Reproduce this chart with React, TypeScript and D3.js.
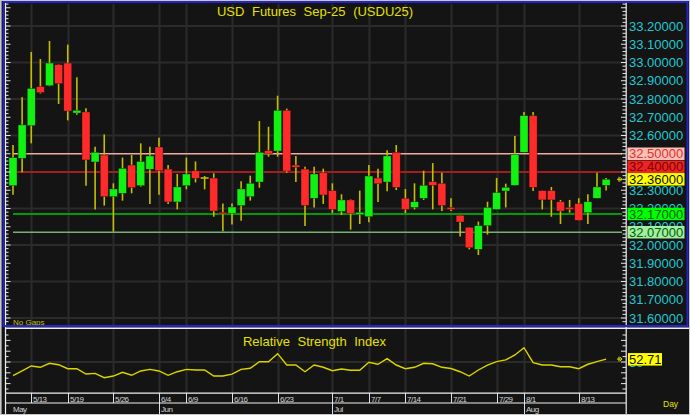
import React from 'react';
import * as d3 from 'd3';

const title = 'USD Futures Sep-25 (USDU25)';
const rsiTitle = 'Relative Strength Index';

const dates = ['5/8','5/9','5/13','5/14','5/15','5/16','5/19','5/20','5/21','5/22','5/23','5/26','5/27','5/28','5/29','5/30','6/4','6/5','6/6','6/9','6/10','6/11','6/12','6/13','6/16','6/17','6/18','6/19','6/20','6/23','6/24','6/25','6/26','6/27','6/30','7/1','7/2','7/3','7/4','7/7','7/8','7/9','7/11','7/14','7/15','7/16','7/17','7/18','7/21','7/22','7/23','7/24','7/25','7/29','7/30','7/31','8/1','8/4','8/5','8/6','8/7','8/8','8/13','8/14','8/15','8/18'];

const opens = [32.325,32.475,32.654,32.868,32.873,32.988,32.997,32.723,32.729,32.455,32.493,32.265,32.283,32.438,32.325,32.415,32.537,32.416,32.236,32.325,32.407,32.367,32.367,32.179,32.174,32.216,32.265,32.345,32.517,32.515,32.738,32.438,32.416,32.256,32.396,32.298,32.184,32.247,32.168,32.155,32.367,32.345,32.508,32.256,32.206,32.256,32.347,32.338,32.206,32.163,32.097,31.976,32.106,32.195,32.296,32.327,32.508,32.709,32.298,32.298,32.237,32.206,32.227,32.177,32.256,32.327];
const highs = [32.548,32.809,33.058,33.019,33.118,32.99,33.098,32.919,32.749,32.539,32.606,32.338,32.479,32.493,32.557,32.539,32.588,32.438,32.389,32.479,32.458,32.378,32.393,32.228,32.228,32.349,32.38,32.679,32.648,32.818,32.747,32.488,32.429,32.429,32.418,32.338,32.278,32.25,32.298,32.438,32.418,32.519,32.548,32.307,32.338,32.407,32.449,32.396,32.256,32.163,32.097,32.128,32.237,32.367,32.336,32.597,32.729,32.729,32.298,32.318,32.247,32.247,32.256,32.278,32.396,32.367];
const lows = [32.276,32.398,32.557,32.83,32.87,32.773,32.683,32.714,32.325,32.195,32.216,32.073,32.243,32.283,32.32,32.225,32.276,32.225,32.195,32.305,32.343,32.305,32.155,32.075,32.113,32.133,32.243,32.314,32.484,32.484,32.396,32.345,32.104,32.206,32.225,32.175,32.164,32.084,32.115,32.124,32.236,32.294,32.301,32.175,32.195,32.247,32.195,32.186,32.186,32.046,31.976,31.945,32.057,32.195,32.206,32.327,32.508,32.296,32.195,32.155,32.115,32.177,32.135,32.115,32.256,32.298];
const closes = [32.479,32.658,32.858,32.835,32.997,32.884,32.734,32.738,32.466,32.508,32.265,32.307,32.42,32.314,32.458,32.488,32.407,32.236,32.318,32.389,32.365,32.367,32.186,32.17,32.208,32.307,32.338,32.508,32.499,32.738,32.405,32.426,32.216,32.389,32.274,32.195,32.247,32.172,32.179,32.378,32.336,32.488,32.316,32.195,32.237,32.327,32.327,32.216,32.195,32.126,31.985,32.106,32.206,32.287,32.316,32.497,32.709,32.316,32.247,32.247,32.186,32.195,32.135,32.237,32.318,32.36];

const rsi = [37.3,41.7,46.3,45.1,48.8,47.5,43.8,43.8,38.9,39.5,35.5,37.0,40.5,37.7,41.7,43.2,41.7,37.7,41.0,43.2,42.6,42.6,37.0,37.0,38.8,43.2,44.2,50.3,50.3,57.7,47.2,47.2,41.0,47.2,45.1,41.9,43.5,42.3,42.3,49.7,47.9,53.1,47.2,43.8,45.1,48.8,48.4,45.1,44.0,41.0,37.0,42.6,47.2,50.3,51.9,56.5,63.2,49.4,47.2,47.2,45.6,45.6,43.8,47.9,50.3,52.71];

const tickDates = ['5/13','5/19','5/26','6/4','6/9','6/16','6/23','7/1','7/7','7/14','7/21','7/29','8/1','8/13'];
const monthLabels = ['May','Jun','Jul','Aug'];
const monthStarts = ['5/8','6/4','7/1','8/1'];

const levels = [32.5, 32.4, 32.17, 32.07];
const lastPrice = 32.36;
const lastRsi = 52.71;

// styles (kept apart from the data)
const levelLine = ['#f2aaa2', '#c81e1e', '#00c400', '#74b074'];
const levelBg = ['#f8c0b6', '#ec2424', '#00ff00', '#a2eea2'];
const levelFg = ['#e03030', '#7a0000', '#006000', '#006000'];
const FONT = 'Liberation Sans, Arial, Helvetica, sans-serif';
const BG = '#141414';
const GRID = '#2b2b2b';
const CYAN = '#22c8d2';
const YEL = '#e4e000';
const WICK = '#c4be00';
const UP = '#12f212';
const DOWN = '#ff2a2a';

export default function App() {
  const x = d3.scalePoint<string>().domain(dates).range([13, 606.125]);
  const y = d3.scaleLinear().domain([31.6, 33.2]).range([318, 26]);
  const ry = d3.scaleLinear().domain([25, 75]).range([389, 335]);
  const fmt = d3.format('.5f');

  const minor = d3.range(1579, 1667).map((k) => ({ v: k / 50, major: k % 5 === 0 }));
  const grid = d3.range(158, 167).map((k) => k / 5);
  const labels = d3.range(316, 333).map((k) => k / 10);
  const rsiTicks = d3.range(25, 76, 5);

  const rsiLine = d3
    .line<number>()
    .x((_, i) => x(dates[i]) as number)
    .y((d) => ry(d))(rsi) as string;

  const lastY = y(lastPrice);
  const boxH = 12.5;
  const levelY = levels.map((v) => {
    const yy = y(v);
    if (Math.abs(yy - lastY) < boxH) return yy < lastY ? lastY - boxH : lastY + boxH;
    return yy;
  });
  // axis labels that a level / last-price box would cover completely are not drawn
  const boxCenters = [...levelY, lastY];
  const visibleLabels = labels.filter((v) => !boxCenters.some((c) => Math.abs(c - y(v)) < 3.5));

  const px = (d: string) => Math.round(x(d) as number) + 0.5;

  return (
    <svg
      width={690}
      height={415}
      style={{ position: 'absolute', left: 0, top: 0, display: 'block' }}
      fontFamily={FONT}
    >
      <rect x={0} y={0} width={690} height={415} fill={BG} />

      {/* main pane grid */}
      {grid.map((v) => (
        <line key={'g' + v} x1={6} x2={625} y1={y(v)} y2={y(v)} stroke={GRID} strokeWidth={2} />
      ))}
      {tickDates.map((d) => (
        <line key={'vg' + d} x1={px(d)} x2={px(d)} y1={4} y2={325} stroke={GRID} strokeWidth={2} />
      ))}

      {/* RSI pane grid */}
      <line x1={6} x2={625} y1={ry(50)} y2={ry(50)} stroke={GRID} strokeWidth={2} />
      {tickDates.map((d) => (
        <line key={'rvg' + d} x1={px(d)} x2={px(d)} y1={329} y2={393} stroke={GRID} strokeWidth={2} />
      ))}

      {/* title */}
      <text x={315} y={15.5} textAnchor="middle" fontSize={13} fill={YEL} wordSpacing={4}>
        {title}
      </text>

      {/* level lines */}
      {levels.map((v, i) => (
        <line key={'lv' + v} x1={13} x2={622} y1={y(v)} y2={y(v)} stroke={levelLine[i]} strokeWidth={1.6} />
      ))}

      {/* candles */}
      {dates.map((d, i) => {
        const cx = x(d) as number;
        const o = opens[i];
        const c = closes[i];
        const up = c > o;
        const top = y(Math.max(o, c));
        const bot = y(Math.min(o, c));
        const doji = Math.abs(c - o) < 0.002;
        return (
          <g key={'c' + d}>
            <line x1={cx} x2={cx} y1={y(highs[i])} y2={y(lows[i])} stroke={WICK} strokeWidth={1.6} />
            {doji ? (
              <line x1={cx - 4} x2={cx + 4} y1={top} y2={top} stroke={WICK} strokeWidth={1.6} />
            ) : (
              <rect
                x={cx - 4}
                y={top}
                width={8}
                height={Math.max(bot - top, 1.5)}
                fill={up ? UP : DOWN}
                stroke="#050505"
                strokeOpacity={0.55}
                strokeWidth={0.6}
              />
            )}
          </g>
        );
      })}

      {/* last price marker */}
      <path
        d={`M617,${lastY} H622 M620,${lastY - 2} L622,${lastY} L620,${lastY + 2} M619,${lastY - 2.5} V${lastY + 2.5}`}
        stroke={YEL}
        strokeWidth={1}
        fill="none"
      />

      <text x={13} y={324.5} fontSize={8} fill="#c0c000">
        No Gaps
      </text>

      {/* price axis ticks */}
      {minor.map((t) => (
        <g key={'t' + t.v}>
          <line x1={6} x2={t.major ? 10.5 : 8.5} y1={y(t.v)} y2={y(t.v)} stroke="#e8e8e8" strokeWidth={1} />
          <line x1={t.major ? 621 : 622.5} x2={626} y1={y(t.v)} y2={y(t.v)} stroke="#e8e8e8" strokeWidth={1} />
        </g>
      ))}

      {/* price labels */}
      {visibleLabels.map((v) => (
        <text key={'pl' + v} x={629} y={y(v)} dy="0.36em" fontSize={13} fill={CYAN}>
          {fmt(v)}
        </text>
      ))}

      {/* level labels */}
      {levels.map((v, i) => (
        <g key={'lb' + v}>
          <rect x={627.5} y={levelY[i] - boxH / 2} width={57} height={boxH} fill={levelBg[i]} />
          <text x={629} y={levelY[i]} dy="0.36em" fontSize={13} fill={levelFg[i]}>
            {fmt(v)}
          </text>
        </g>
      ))}
      <rect x={627.5} y={lastY - boxH / 2} width={57} height={boxH} fill="#ffff00" />
      <text x={629} y={lastY} dy="0.36em" fontSize={13} fill="#101010">
        {fmt(lastPrice)}
      </text>

      {/* RSI */}
      <text x={314.5} y={345.5} textAnchor="middle" fontSize={13} fill={YEL} wordSpacing={4}>
        {rsiTitle}
      </text>
      <path d={rsiLine} fill="none" stroke="#1a1a00" strokeWidth={3} opacity={0.6} />
      <path d={rsiLine} fill="none" stroke="#dcd400" strokeWidth={1.4} />
      {rsiTicks.map((t) => (
        <g key={'rt' + t}>
          <line x1={6} x2={t % 10 === 0 ? 10.5 : 8.5} y1={ry(t)} y2={ry(t)} stroke="#e8e8e8" strokeWidth={1} />
          <line x1={t % 10 === 0 ? 621 : 622.5} x2={626} y1={ry(t)} y2={ry(t)} stroke="#e8e8e8" strokeWidth={1} />
        </g>
      ))}
      <text x={629} y={ry(50)} dy="0.36em" fontSize={13} fill={CYAN}>
        50
      </text>
      <path
        d={`M617,${ry(lastRsi)} H622 M620,${ry(lastRsi) - 2} L622,${ry(lastRsi)} L620,${ry(lastRsi) + 2} M619,${ry(lastRsi) - 2.5} V${ry(lastRsi) + 2.5}`}
        stroke={YEL}
        strokeWidth={1}
        fill="none"
      />
      <rect x={628} y={ry(lastRsi) - 6} width={34} height={12.5} fill="#ffff00" />
      <text x={629} y={ry(lastRsi)} dy="0.36em" fontSize={13} fill="#101010">
        {lastRsi.toFixed(2)}
      </text>

      {/* date axis */}
      {tickDates.map((d) => (
        <g key={'dl' + d}>
          <line x1={px(d)} x2={px(d)} y1={393} y2={403} stroke="#e0e0e0" strokeWidth={1} />
          <text x={px(d) + 1.5} y={401.5} fontSize={8} letterSpacing={-0.5} fill="#d4d4d4">
            {d}
          </text>
        </g>
      ))}
      {monthStarts.map((d, i) => (
        <g key={'m' + d}>
          {i > 0 && <line x1={px(d)} x2={px(d)} y1={393} y2={415} stroke="#e0e0e0" strokeWidth={1} />}
          <text x={i > 0 ? px(d) + 1.5 : 13} y={411.5} fontSize={8} letterSpacing={-0.5} fill="#d4d4d4">
            {monthLabels[i]}
          </text>
        </g>
      ))}
      <text x={663} y={407} fontSize={8.5} fill={YEL}>
        Day
      </text>

      {/* pane borders */}
      <line x1={5.5} x2={5.5} y1={3} y2={415} stroke="#f0f0f0" strokeWidth={1.2} />
      <line x1={626.2} x2={626.2} y1={3} y2={415} stroke="#f0f0f0" strokeWidth={1.2} />
      <line x1={5} x2={690} y1={328.2} y2={328.2} stroke="#f0f0f0" strokeWidth={1.4} />
      <line x1={5} x2={626} y1={393.2} y2={393.2} stroke="#f0f0f0" strokeWidth={1.2} />
      <line x1={5} x2={626} y1={403} y2={403} stroke="#f0f0f0" strokeWidth={1.2} />

      {/* active pane blue frame */}
      <path d="M3.5,326 V2 H687.5 V326 Z" fill="none" stroke="#2424c8" strokeWidth={2} />

      {/* window frame */}
      <rect x={0.5} y={0.5} width={689} height={414} fill="none" stroke="#c8c8c8" strokeWidth={1} />
      <line x1={1.5} x2={1.5} y1={1} y2={414} stroke="#808080" strokeWidth={1} />
    </svg>
  );
}
